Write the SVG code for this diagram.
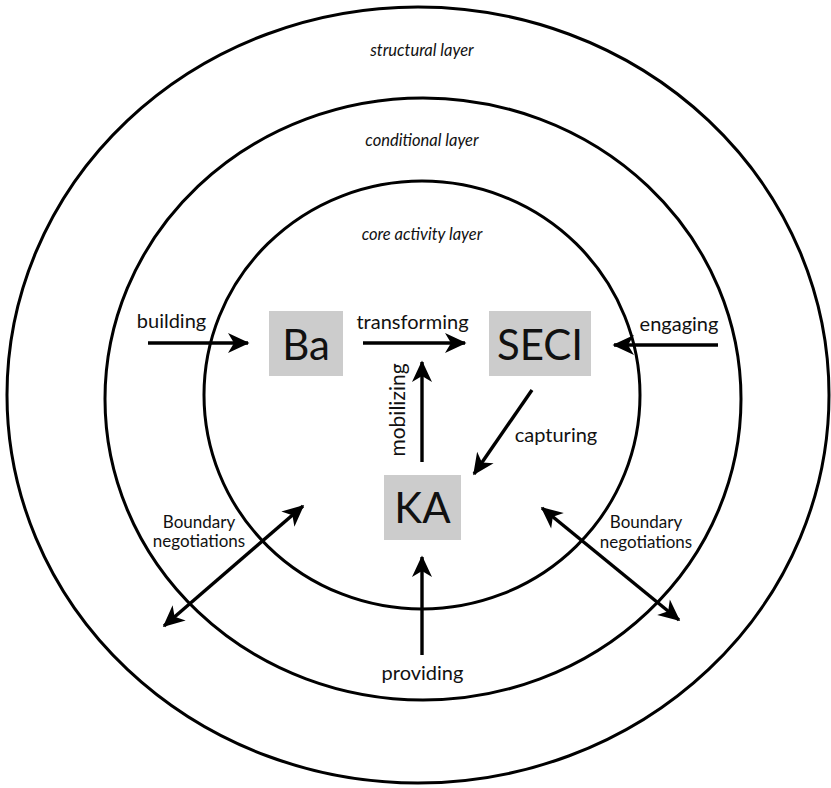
<svg xmlns="http://www.w3.org/2000/svg" width="831" height="788" viewBox="0 0 831 788">
<style>
.ring{fill:none;stroke:#000;stroke-width:3}
.box{fill:#cccccc}
.big{font-family:Lato,"Open Sans","Liberation Sans",sans-serif;font-size:42px;fill:#111;text-anchor:middle}
.lbl{font-family:Lato,"Open Sans","Liberation Sans",sans-serif;font-size:20px;fill:#111;text-anchor:middle}
.small{font-family:Lato,"Open Sans","Liberation Sans",sans-serif;font-size:17px;fill:#111;text-anchor:middle}
.layer{font-family:Lato,"Open Sans","Liberation Sans",sans-serif;font-size:16.5px;font-style:italic;fill:#111;text-anchor:middle}
.arr{fill:none;stroke:#000;stroke-width:3.4}
</style>
<defs>
<marker id="ah" viewBox="-22 -11 24 22" refX="0" refY="0" markerWidth="24" markerHeight="22" markerUnits="userSpaceOnUse" orient="auto-start-reverse">
<path d="M1.5,0 L-20,-10 L-14,0 L-20,10 Z" fill="#000"/>
</marker>
</defs>
<g id="layers">
<ellipse class="ring" cx="418" cy="395" rx="411" ry="388"/>
<ellipse class="ring" cx="423" cy="399" rx="318" ry="301"/>
<ellipse class="ring" cx="422" cy="395" rx="218" ry="214"/>
<text class="layer" x="422" y="56">structural layer</text>
<text class="layer" x="422" y="146">conditional layer</text>
<text class="layer" x="422" y="240">core activity layer</text>
</g>
<g id="node-ba">
<rect class="box" x="269" y="311" width="74" height="65"/>
<text class="big" x="306" y="360">Ba</text>
</g>
<g id="node-seci">
<rect class="box" x="489" y="311" width="102" height="65"/>
<text class="big" x="540" y="360">SECI</text>
</g>
<g id="node-ka">
<rect class="box" x="384" y="475" width="77" height="65"/>
<text class="big" x="422.5" y="523">KA</text>
</g>
<g id="connectors">
<line class="arr" x1="148" y1="343" x2="248" y2="343" marker-end="url(#ah)"/>
<line class="arr" x1="363" y1="343" x2="465" y2="343" marker-end="url(#ah)"/>
<line class="arr" x1="718" y1="345" x2="614" y2="345" marker-end="url(#ah)"/>
<line class="arr" x1="422" y1="462" x2="422" y2="362" marker-end="url(#ah)"/>
<line class="arr" x1="532" y1="390" x2="474" y2="474" marker-end="url(#ah)"/>
<line class="arr" x1="422" y1="655" x2="422" y2="557" marker-end="url(#ah)"/>
<line class="arr" x1="164" y1="626" x2="303" y2="506" marker-start="url(#ah)" marker-end="url(#ah)"/>
<line class="arr" x1="542" y1="508" x2="679" y2="620" marker-start="url(#ah)" marker-end="url(#ah)"/>
<text class="lbl" x="171.5" y="328">building</text>
<text class="lbl" x="412.5" y="329">transforming</text>
<text class="lbl" x="679" y="331">engaging</text>
<text class="lbl" x="556" y="442">capturing</text>
<text class="lbl" x="422.5" y="680">providing</text>
<text class="lbl" style="font-size:21px" transform="translate(405,410) rotate(-90)">mobilizing</text>
<text class="small" x="199" y="528">Boundary</text>
<text class="small" x="199" y="547">negotiations</text>
<text class="small" x="646" y="528">Boundary</text>
<text class="small" x="646" y="548">negotiations</text>
</g>
</svg>
